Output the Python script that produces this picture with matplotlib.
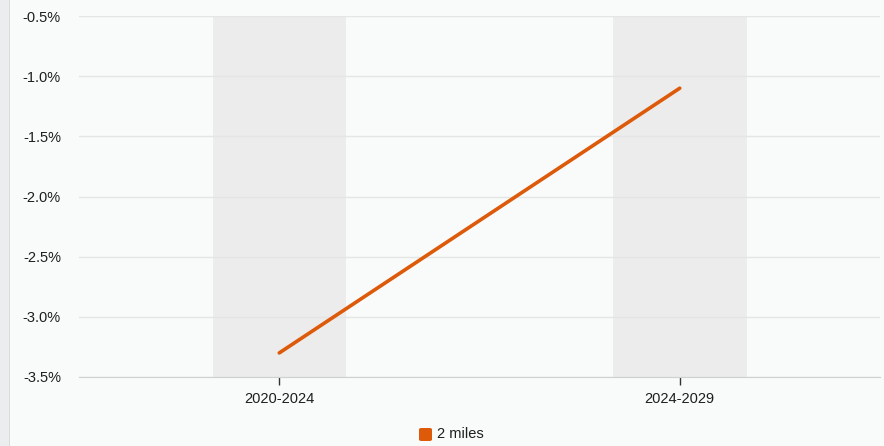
import matplotlib
matplotlib.use("Agg")
import matplotlib.pyplot as plt
from matplotlib.patches import Rectangle, FancyBboxPatch
from matplotlib.ticker import FuncFormatter

periods = ["2020-2024", "2024-2029"]
change_2mi = [-3.3, -1.1]
y_ticks = [-3.5, -3.0, -2.5, -2.0, -1.5, -1.0, -0.5]

plt.rcParams['font.family'] = ['Liberation Sans', 'DejaVu Sans']

bg = "#f9fbfb"
fig = plt.figure(figsize=(8.84, 4.46), dpi=100, facecolor=bg)
ax = fig.add_axes([79/884, 1 - 377/446, 801/884, 361/446])
ax.set_facecolor(bg)

# gray strip on the far left
fig.patches.append(Rectangle((0, 0), 9/884, 1, transform=fig.transFigure,
                             facecolor="#ebedee", edgecolor="none", zorder=0))
fig.patches.append(Rectangle((9/884, 0), 1/884, 1, transform=fig.transFigure,
                             facecolor="#d9dbdc", edgecolor="none", zorder=0))

x = list(range(len(periods)))
for xi in x:
    ax.axvspan(xi - 1/6, xi + 1/6, ymin=0, ymax=0.997, color="#ececec", zorder=0, lw=0)

ax.plot(x, change_2mi, color="#dd5a0a", lw=2.6, solid_capstyle="round", zorder=3, label="2 miles")

ax.set_xlim(-0.5, 1.5)
ax.set_ylim(-3.5, -0.5)
ax.set_yticks(y_ticks)
ax.yaxis.set_major_formatter(FuncFormatter(lambda v, p: f"{v:.1f}%"))
ax.set_xticks(x)
ax.set_xticklabels(periods)

ax.grid(axis="y", color="#e4e6e6", lw=1, zorder=1)
for s in ["top", "right", "left"]:
    ax.spines[s].set_visible(False)
ax.spines["bottom"].set_color("#cfd1d1")
ax.tick_params(axis="y", length=0, pad=13, labelsize=10.5, labelcolor="#1e1e1e")
ax.tick_params(axis="x", length=6, width=1, color="#333333", pad=5, labelsize=10.5, labelcolor="#1e1e1e")

# legend: rounded orange square + label
fig.patches.append(FancyBboxPatch((419/884, 1 - 441/446), 13/884, 13/446,
                                  boxstyle="round,pad=0,rounding_size=0.003",
                                  transform=fig.transFigure, facecolor="#dd5a0a",
                                  edgecolor="none"))
fig.text(437/884, 1 - 434/446, "2 miles", ha="left", va="center", fontsize=10.5, color="#1e1e1e")

fig.savefig("out.png", dpi=100, facecolor=bg)
